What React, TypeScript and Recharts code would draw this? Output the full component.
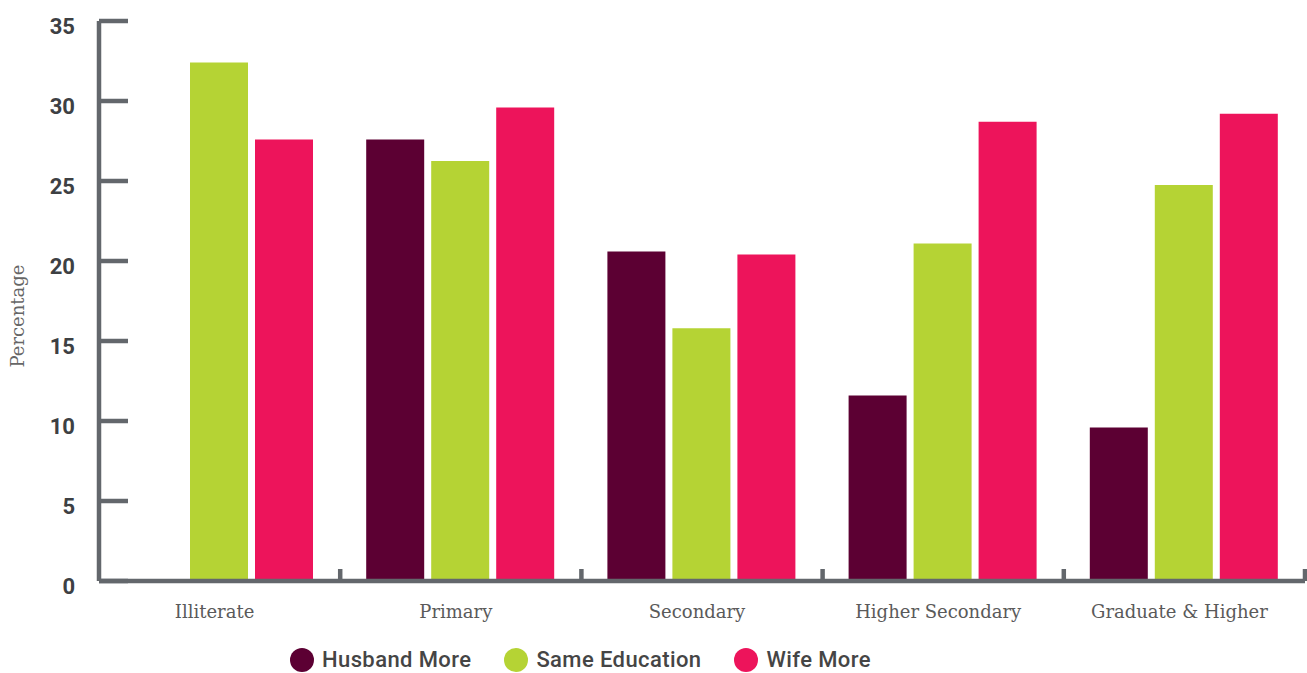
import { BarChart, Bar, XAxis, YAxis } from "recharts";

// Categorías y series
const categories = ["Illiterate", "Primary", "Secondary", "Higher Secondary", "Graduate & Higher"];
const husbandMore = [0, 27.6, 20.6, 11.6, 9.6];
const sameEducation = [32.4, 26.25, 15.8, 21.1, 24.75];
const wifeMore = [27.6, 29.6, 20.4, 28.7, 29.2];
const yTicks = [0, 5, 10, 15, 20, 25, 30, 35];

const series = [
  { key: "husband", name: "Husband More", color: "#5c0033" },
  { key: "same", name: "Same Education", color: "#b5d334" },
  { key: "wife", name: "Wife More", color: "#ed145b" },
];

const data = categories.map((c, i) => ({
  name: c,
  husband: husbandMore[i],
  same: sameEducation[i],
  wife: wifeMore[i],
}));

const AXIS = "#63676c";

// tick del eje Y: línea hacia dentro + número a la izquierda
const YTick = (props: any) => {
  const { x, y, payload } = props;
  return (
    <g>
      <line x1={x} x2={x + 29} y1={y} y2={y} stroke={AXIS} strokeWidth={4.5} />
      <text
        x={x - 24}
        y={y}
        dy={13}
        textAnchor="end"
        fill="#3d4043"
        fontFamily="Roboto"
        fontWeight={700}
        fontSize={22}
      >
        {payload.value}
      </text>
    </g>
  );
};

// tick del eje X: marca en el borde derecho de cada banda
const XTick = (props: any) => {
  const { x, y, payload, width } = props;
  const bw = width / categories.length;
  return (
    <g>
      <line x1={x + bw / 2} x2={x + bw / 2} y1={y} y2={y - 12} stroke={AXIS} strokeWidth={4.5} />
      <text
        x={x - 5}
        y={y + 37}
        textAnchor="middle"
        fill="#5a5a5a"
        fontFamily="DejaVu Serif"
        fontSize={18}
      >
        {payload.value}
      </text>
    </g>
  );
};

const YLabel = ({ viewBox }: any) => {
  const cx = viewBox.x + 17;
  const cy = viewBox.y + viewBox.height / 2 + 15;
  return (
    <text
      x={cx}
      y={cy}
      transform={`rotate(-90 ${cx} ${cy})`}
      textAnchor="middle"
      dominantBaseline="central"
      fill="#666"
      fontFamily="DejaVu Serif"
      fontSize={18}
    >
      Percentage
    </text>
  );
};

export default function App() {
  return (
    <div style={{ position: "absolute", left: 0, top: 0, width: 1307, height: 673, background: "#fff" }}>
      <BarChart
        width={1307}
        height={673}
        data={data}
        margin={{ top: 21, right: 2, left: 0, bottom: 42 }}
        barCategoryGap={26}
        barGap={7}
      >
        <XAxis
          dataKey="name"
          height={50}
          tickSize={0}
          tickMargin={0}
          tickLine={false}
          axisLine={{ stroke: AXIS, strokeWidth: 4.5 }}
          tick={<XTick />}
          interval={0}
        />
        <YAxis
          width={99}
          domain={[0, 35]}
          ticks={yTicks}
          tickSize={0}
          tickMargin={0}
          tickLine={false}
          axisLine={{ stroke: AXIS, strokeWidth: 4.5 }}
          tick={<YTick />}
          label={{ content: <YLabel /> }}
        />
        {series.map((s) => (
          <Bar key={s.key} dataKey={s.key} name={s.name} fill={s.color} isAnimationActive={false} />
        ))}
      </BarChart>
      <div
        style={{
          position: "absolute",
          left: 290,
          top: 647,
          display: "flex",
          alignItems: "center",
          fontFamily: "Roboto",
          fontWeight: 500,
          fontSize: 22,
          letterSpacing: 0.4,
          color: "#454545",
        }}
      >
        {series.map((s) => (
          <div key={s.key} style={{ display: "flex", alignItems: "center", marginRight: 33 }}>
            <span
              style={{
                width: 24,
                height: 24,
                borderRadius: 12,
                background: s.color,
                marginRight: 8,
                display: "inline-block",
              }}
            />
            <span>{s.name}</span>
          </div>
        ))}
      </div>
    </div>
  );
}
